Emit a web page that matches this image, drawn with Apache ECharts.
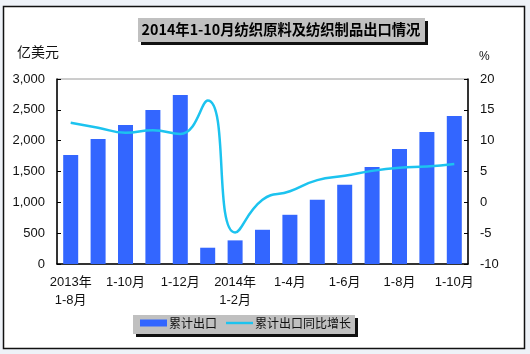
<!DOCTYPE html>
<html>
<head>
<meta charset="utf-8">
<script src="https://cdn.jsdelivr.net/npm/echarts@6/dist/echarts.min.js"></script>
<style>
  html, body { margin: 0; padding: 0; background: #eef2f8; }
  #main { width: 530px; height: 354px; }
</style>
</head>
<body>
<div id="main"></div>
<script>
// x轴分类 (隔一个显示)
var categories = ['2013年\n1-8月', '1-9月', '1-10月', '1-11月', '1-12月', '2014年\n1月', '2014年\n1-2月',
  '1-3月', '1-4月', '1-5月', '1-6月', '1-7月', '1-8月', '1-9月', '1-10月'];
// 累计出口 (亿美元)
var exportValue = [1769, 2028, 2255, 2498, 2741, 264, 383, 555, 798, 1041, 1284, 1575, 1866, 2141, 2400];
// 累计出口同比增长 (%)
var growthRate = [12.9, 12.1, 11.3, 11.7, 11.1, 16.5, -4.9, 0.4, 1.8, 3.6, 4.3, 5.1, 5.6, 5.8, 6.2];
var seriesNames = ['累计出口', '累计出口同比增长'];
var titleText = '2014年1-10月纺织原料及纺织制品出口情况';

var font = '"Liberation Sans", Arial, "Noto Sans CJK SC", sans-serif';

var chart = echarts.init(document.getElementById('main'));
var option = {
  backgroundColor: '#eef2f8',
  animation: false,
  textStyle: { fontFamily: font },
  graphic: [
    // 外框
    { type: 'rect', z: -100, shape: { x: 3.5, y: 6.5, width: 521, height: 342 },
      style: { fill: '#fff', stroke: '#111', lineWidth: 1.5 } },
    // 标题框
    { type: 'rect', z: 10, shape: { x: 141, y: 21, width: 287, height: 24 }, style: { fill: '#111' } },
    { type: 'rect', z: 11, shape: { x: 138, y: 18, width: 287, height: 24 }, style: { fill: '#c0c0c0' } },
    { type: 'text', z: 12, x: 281, y: 30,
      style: { text: titleText, fill: '#000', font: 'bold 14.3px "Noto Sans CJK SC", sans-serif',
        textAlign: 'center', textVerticalAlign: 'middle' } },
    // 图例框
    { type: 'rect', z: -5, shape: { x: 136, y: 318, width: 222, height: 19 }, style: { fill: '#111' } },
    { type: 'rect', z: -4, shape: { x: 133, y: 315, width: 222, height: 19 }, style: { fill: '#c0c0c0' } },
    // 轴单位
    { type: 'text', x: 17, y: 52,
      style: { text: '亿美元', fill: '#111', font: '14px "Noto Sans CJK SC", sans-serif', textVerticalAlign: 'middle' } },
    { type: 'text', x: 479, y: 57,
      style: { text: '%', fill: '#111', font: '12px "Liberation Sans", sans-serif', textVerticalAlign: 'middle' } }
  ],
  legend: {
    left: 140,
    top: 317,
    padding: 0,
    itemWidth: 27,
    itemHeight: 7,
    itemGap: 9,
    textStyle: { fontSize: 12, color: '#111', fontFamily: '"Noto Sans CJK SC", sans-serif', padding: [0, 0, 0, -3] },
    data: [
      { name: seriesNames[0], icon: 'rect' },
      // 细线图标 (上下两个空点撑开包围盒)
      { name: seriesNames[1], icon: 'path://M0,0 M0,7 M0,2.3 L27,2.3 L27,4.7 L0,4.7 Z' }
    ]
  },
  grid: {
    left: 57, right: 62, top: 79, bottom: 90,
    show: true, borderColor: '#9a9a9a', borderWidth: 1, backgroundColor: 'transparent'
  },
  xAxis: {
    type: 'category',
    data: categories,
    boundaryGap: true,
    axisLine: { lineStyle: { color: '#000', width: 1.5 } },
    axisTick: { inside: true, length: 4, interval: 0, lineStyle: { color: '#000' } },
    axisLabel: { interval: 1, margin: 9, fontSize: 13, lineHeight: 18, color: '#111' },
    splitLine: { show: false }
  },
  yAxis: [
    {
      type: 'value', min: 0, max: 3000, interval: 500,
      axisLine: { show: true, lineStyle: { color: '#000', width: 1.5 } },
      axisTick: { show: true, inside: true, length: 4, lineStyle: { color: '#000' } },
      axisLabel: { margin: 12, fontSize: 13, color: '#111',
        formatter: function (v) { return v.toLocaleString('en-US'); } },
      splitLine: { show: false }
    },
    {
      type: 'value', min: -10, max: 20, interval: 5,
      axisLine: { show: true, lineStyle: { color: '#000', width: 1.5 } },
      axisTick: { show: true, inside: true, length: 4, lineStyle: { color: '#000' } },
      axisLabel: { margin: 12, fontSize: 13, color: '#111' },
      splitLine: { show: false }
    }
  ],
  series: [
    {
      name: seriesNames[0],
      type: 'bar',
      data: exportValue,
      barWidth: 15,
      itemStyle: { color: '#3366ff' }
    },
    {
      name: seriesNames[1],
      type: 'line',
      yAxisIndex: 1,
      data: growthRate,
      smooth: 0.5,
      symbol: 'none',
      lineStyle: { color: '#1cc3ef', width: 2.5 },
      itemStyle: { color: '#1cc3ef' }
    }
  ]
};
chart.setOption(option);
</script>
</body>
</html>
